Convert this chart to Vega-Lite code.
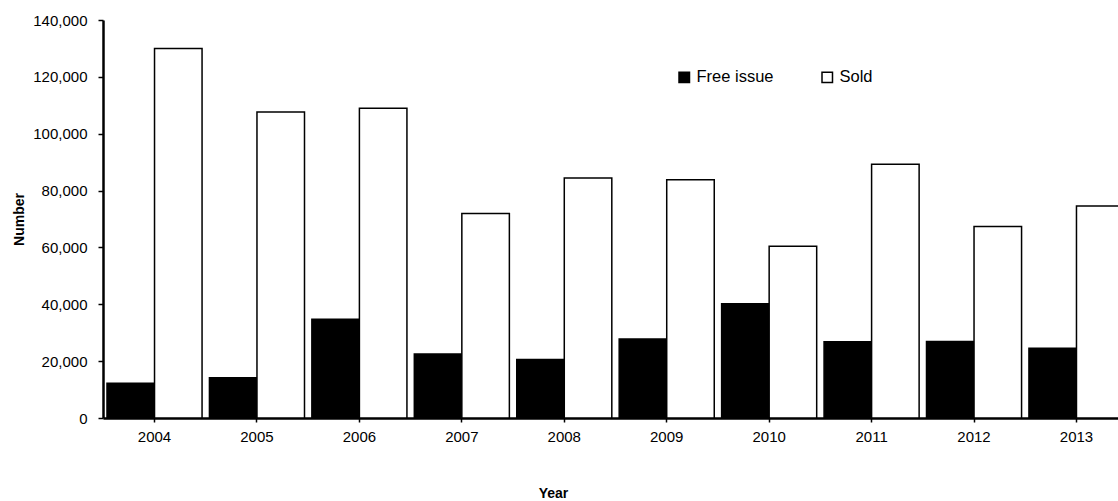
{
  "$schema": "https://vega.github.io/schema/vega-lite/v6.json",
  "autosize": "none",
  "padding": {"left": 103, "top": 20, "right": 0, "bottom": 83},
  "width": 1015,
  "height": 398,
  "background": "white",
  "config": {
    "view": {"stroke": null},
    "font": "Liberation Sans"
  },
  "data": {
    "values": [
      {"year": "2004", "series": "Free issue", "value": 12200},
      {"year": "2004", "series": "Sold", "value": 130000},
      {"year": "2005", "series": "Free issue", "value": 14200},
      {"year": "2005", "series": "Sold", "value": 107600},
      {"year": "2006", "series": "Free issue", "value": 34700},
      {"year": "2006", "series": "Sold", "value": 109000},
      {"year": "2007", "series": "Free issue", "value": 22500},
      {"year": "2007", "series": "Sold", "value": 71900},
      {"year": "2008", "series": "Free issue", "value": 20600},
      {"year": "2008", "series": "Sold", "value": 84400},
      {"year": "2009", "series": "Free issue", "value": 27800},
      {"year": "2009", "series": "Sold", "value": 83800},
      {"year": "2010", "series": "Free issue", "value": 40200},
      {"year": "2010", "series": "Sold", "value": 60400},
      {"year": "2011", "series": "Free issue", "value": 26800},
      {"year": "2011", "series": "Sold", "value": 89300},
      {"year": "2012", "series": "Free issue", "value": 26900},
      {"year": "2012", "series": "Sold", "value": 67400},
      {"year": "2013", "series": "Free issue", "value": 24500},
      {"year": "2013", "series": "Sold", "value": 74600}
    ]
  },
  "mark": {"type": "bar", "stroke": "black", "strokeWidth": 1.5},
  "encoding": {
    "x": {
      "field": "year",
      "type": "ordinal",
      "scale": {"range": [0, 1025], "paddingInner": 0.072, "paddingOuter": 0.039},
      "axis": {
        "title": "Year",
        "labelAngle": 0,
        "labelFontSize": 15,
        "labelColor": "black",
        "labelPadding": 7,
        "tickSize": 4,
        "tickColor": "black",
        "tickWidth": 1.5,
        "domainColor": "black",
        "domainWidth": 2.5,
        "titleFontSize": 14,
        "titleFontWeight": "bold",
        "titleColor": "black",
        "titleX": 450,
        "titleY": 79,
        "titleBaseline": "alphabetic",
        "titleAnchor": null,
        "titleAlign": "center"
      }
    },
    "xOffset": {"field": "series", "type": "nominal", "scale": {"paddingInner": 0, "paddingOuter": 0}},
    "y": {
      "field": "value",
      "type": "quantitative",
      "scale": {"domain": [0, 140000], "nice": false},
      "axis": {
        "title": "Number",
        "format": ",.0f",
        "values": [0, 20000, 40000, 60000, 80000, 100000, 120000, 140000],
        "grid": false,
        "labelFontSize": 15,
        "labelColor": "black",
        "labelPadding": 11,
        "tickSize": 5,
        "tickColor": "black",
        "tickWidth": 1.5,
        "domainColor": "black",
        "domainWidth": 2.5,
        "titleFontSize": 14,
        "titleFontWeight": "bold",
        "titleColor": "black",
        "titleX": -80,
        "titleY": 199,
        "titleAngle": -90,
        "titleBaseline": "alphabetic",
        "titleAlign": "center",
        "titleAnchor": null
      }
    },
    "fill": {
      "field": "series",
      "type": "nominal",
      "scale": {"domain": ["Free issue", "Sold"], "range": ["black", "white"]},
      "legend": {
        "title": null,
        "orient": "none",
        "direction": "horizontal",
        "legendX": 573,
        "legendY": 49,
        "symbolType": "square",
        "symbolSize": 110,
        "symbolStrokeColor": "black",
        "symbolStrokeWidth": 1.5,
        "labelFontSize": 16.5,
        "labelColor": "black",
        "labelOffset": 4,
        "columnPadding": 45
      }
    }
  }
}
